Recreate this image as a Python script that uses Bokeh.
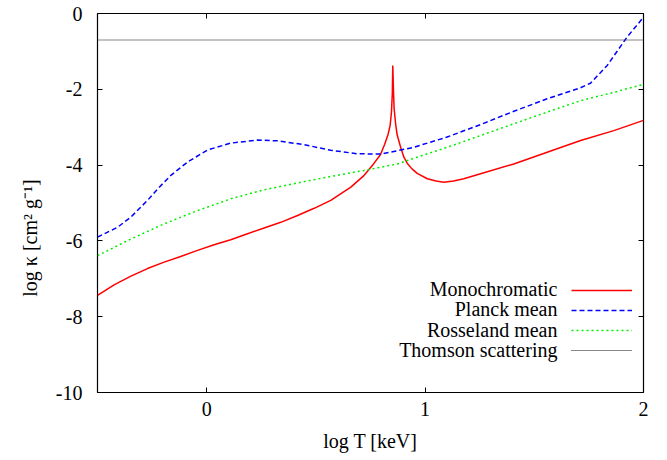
from bokeh.plotting import figure
from bokeh.models import LinearAxis, Range1d, FixedTicker, Legend, LegendItem, Label, CustomJSTickFormatter
from bokeh.embed import file_html
from bokeh.resources import INLINE

# ---- data ----
logT_mono = [-0.5, -0.424, -0.347, -0.271, -0.195, -0.119, -0.042, 0.034, 0.11, 0.187,
             0.263, 0.339, 0.416, 0.492, 0.568, 0.66, 0.721, 0.76, 0.796, 0.815,
             0.83, 0.84, 0.846, 0.85, 0.852, 0.855, 0.858, 0.865, 0.872, 0.888,
             0.903, 0.918, 0.94, 0.964, 1.01, 1.05, 1.086, 1.13, 1.177, 1.254,
             1.406, 1.559, 1.712, 1.864, 2.0]
kappa_mono = [-7.44, -7.16, -6.93, -6.73, -6.56, -6.41, -6.25, -6.10, -5.97, -5.81,
              -5.66, -5.51, -5.33, -5.14, -4.93, -4.58, -4.27, -4.0, -3.72, -3.45,
              -3.2, -2.95, -2.6, -2.1, -1.37, -2.0, -2.5, -2.91, -3.2, -3.53,
              -3.79, -3.95, -4.1, -4.22, -4.36, -4.42, -4.45, -4.42, -4.36, -4.23,
              -3.97, -3.66, -3.35, -3.09, -2.82]

logT_planck = [-0.5, -0.408, -0.347, -0.271, -0.225, -0.164, -0.088, 0.004, 0.11, 0.233,
               0.324, 0.446, 0.568, 0.69, 0.797, 0.948, 1.101, 1.254, 1.406, 1.559,
               1.712, 1.757, 1.834, 1.925, 2.0]
kappa_planck = [-5.90, -5.64, -5.37, -4.93, -4.63, -4.27, -3.92, -3.60, -3.42, -3.34,
                -3.36, -3.46, -3.61, -3.70, -3.71, -3.53, -3.26, -2.93, -2.58, -2.25,
                -1.96, -1.84, -1.37, -0.62, -0.10]

logT_ross = [-0.5, -0.347, -0.195, -0.042, 0.11, 0.263, 0.416, 0.568, 0.721, 0.874,
             0.948, 1.101, 1.254, 1.406, 1.559, 1.712, 1.864, 2.0]
kappa_ross = [-6.39, -5.95, -5.55, -5.20, -4.89, -4.65, -4.47, -4.30, -4.14, -3.97,
              -3.82, -3.53, -3.22, -2.91, -2.60, -2.30, -2.08, -1.87]

logT_thomson = [-0.5, 2.0]
kappa_thomson = [-0.7, -0.7]

x_ticks = [0, 1, 2]
y_ticks = [0, -2, -4, -6, -8, -10]
series_names = ["Monochromatic", "Planck mean", "Rosseland mean", "Thomson scattering"]

FONT = "Liberation Serif"
FS = "20px"

p = figure(width=660, height=456, output_backend="svg", toolbar_location=None,
           x_range=Range1d(-0.5, 2.0), y_range=Range1d(-10, 0),
           min_border_left=97, min_border_right=17, min_border_top=13, min_border_bottom=64,
           x_axis_label="log T [keV]",
           y_axis_label="log \u03ba [cm\u00b2 g\u207b\u00b9]" + "\u00a0" * 14)
p.xgrid.visible = False
p.ygrid.visible = False
p.outline_line_color = "black"
p.outline_line_width = 1.2
p.background_fill_color = "white"
p.border_fill_color = "white"

r_mono = p.line(logT_mono, kappa_mono, line_color="#ff0000", line_width=1.5)
r_planck = p.line(logT_planck, kappa_planck, line_color="#0000ff", line_width=1.5,
                  line_dash="5 3")
r_ross = p.line(logT_ross, kappa_ross, line_color="#00ee00", line_width=1.5,
                line_dash="2 3")
r_thom = p.line(logT_thomson, kappa_thomson, line_color="#111111", line_width=1.1,
                line_dash="1 1")

def style_axis(ax, ticks, labels=True):
    ax.ticker = FixedTicker(ticks=ticks)
    ax.minor_tick_line_color = None
    ax.major_tick_in = 5
    ax.major_tick_out = 0
    ax.axis_line_color = None
    ax.major_tick_line_color = "black"
    ax.major_tick_line_width = 1
    if labels:
        ax.formatter = CustomJSTickFormatter(code="return tick.toFixed(0)")
        ax.major_label_text_font = FONT
        ax.major_label_text_font_size = FS
        ax.major_label_text_color = "black"
        ax.axis_label_text_font = FONT
        ax.axis_label_text_font_size = FS
        ax.axis_label_text_font_style = "normal"
        ax.axis_label_text_color = "black"
    else:
        ax.formatter = CustomJSTickFormatter(code="return ''")
        ax.major_label_standoff = 0

style_axis(p.xaxis[0], x_ticks)
style_axis(p.yaxis[0], y_ticks)
p.xaxis[0].major_label_standoff = 9
p.xaxis[0].axis_label_standoff = 11
p.yaxis[0].major_label_standoff = 15
p.yaxis[0].axis_label_standoff = 12

top = LinearAxis()
style_axis(top, x_ticks, labels=False)
p.add_layout(top, "above")
right = LinearAxis()
style_axis(right, y_ticks, labels=False)
p.add_layout(right, "right")

# legend: line samples from a Legend, names as right-aligned labels to their left
legend = Legend(items=[LegendItem(label="\u00a0", renderers=[r]) for r in
                       [r_mono, r_planck, r_ross, r_thom]],
                location=(474, 32), orientation="vertical",
                glyph_width=61, glyph_height=20, spacing=0, padding=0, margin=0,
                label_standoff=0, label_width=0, label_height=20,
                label_text_font=FONT, label_text_font_size="12px",
                border_line_color=None, background_fill_alpha=0)
p.add_layout(legend, "center")

label_y = [-7.26, -7.81, -8.36, -8.89]
for name, yy in zip(series_names, label_y):
    p.add_layout(Label(x=1.606, y=yy, text=name, text_align="right",
                       text_baseline="middle", text_font=FONT, text_font_size=FS,
                       text_color="black"))

open("out.html", "w").write(file_html(p, INLINE))
